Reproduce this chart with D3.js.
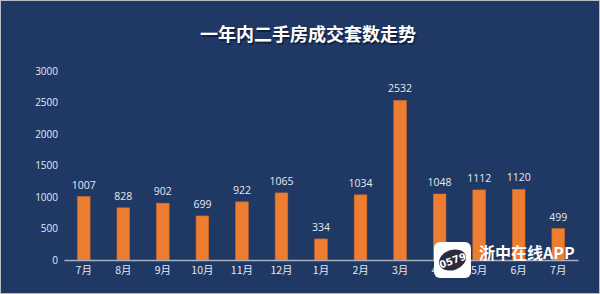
<!DOCTYPE html>
<html>
<head>
<meta charset="utf-8">
<script src="https://cdn.jsdelivr.net/npm/d3@7"></script>
<style>
  html, body { margin: 0; padding: 0; background: #1f3864; }
  svg { display: block; }
</style>
</head>
<body>
<div id="chart"></div>
<script>
var months = ["7月", "8月", "9月", "10月", "11月", "12月", "1月", "2月", "3月", "4月", "5月", "6月", "7月"];
var deals = [1007, 828, 902, 699, 922, 1065, 334, 1034, 2532, 1048, 1112, 1120, 499];
var yTicks = [0, 500, 1000, 1500, 2000, 2500, 3000];
var titleText = "一年内二手房成交套数走势";

var width = 600, height = 294;
var svg = d3.select("#chart").append("svg")
    .attr("width", width).attr("height", height);

svg.append("rect").attr("x", 0.5).attr("y", 0.5)
    .attr("width", width - 1).attr("height", height - 1)
    .attr("fill", "#1f3864").attr("stroke", "#b8bcc4");

// title with a soft shadow
svg.append("text").attr("x", 308).attr("y", 41).attr("text-anchor", "middle")
    .attr("font-family", "'Noto Sans CJK SC', sans-serif").attr("font-weight", "bold")
    .attr("font-size", 18).attr("fill", "#0e1a33").attr("opacity", 0.7)
    .attr("transform", "translate(1.5,1.5)").text(titleText);
svg.append("text").attr("x", 308).attr("y", 41).attr("text-anchor", "middle")
    .attr("font-family", "'Noto Sans CJK SC', sans-serif").attr("font-weight", "bold")
    .attr("font-size", 18).attr("fill", "#ffffff").text(titleText);

var x = d3.scaleBand().domain(d3.range(months.length))
    .range([64, 578]).paddingInner(0.68).paddingOuter(0.34);
var y = d3.scaleLinear().domain([0, 3000]).range([260, 71]);

// y axis labels only
var yAxis = svg.append("g").attr("transform", "translate(58,0)")
    .call(d3.axisLeft(y).tickValues(yTicks).tickFormat(d3.format("d")).tickSize(0).tickPadding(0));
yAxis.select(".domain").remove();
yAxis.selectAll("text").attr("fill", "#e6e9ef").attr("font-size", 10)
    .attr("font-family", "'Open Sans', 'Noto Sans', sans-serif");

// bars
svg.selectAll("rect.bar").data(deals).enter().append("rect")
    .attr("class", "bar")
    .attr("x", function(d, i) { return x(i); })
    .attr("y", function(d) { return y(d); })
    .attr("width", x.bandwidth())
    .attr("height", function(d) { return y(0) - y(d); })
    .attr("fill", "#ed7d31").attr("stroke", "#d46a22").attr("stroke-width", 0.6);

// value labels
svg.selectAll("text.val").data(deals).enter().append("text")
    .attr("class", "val")
    .attr("x", function(d, i) { return x(i) + x.bandwidth() / 2; })
    .attr("y", function(d) { return y(d) - 8; })
    .attr("text-anchor", "middle").attr("font-size", 10.5)
    .attr("font-family", "'Open Sans', 'Noto Sans', sans-serif")
    .attr("fill", "#e6e9ef").text(function(d) { return d; });

// x axis
var xAxis = svg.append("g").attr("transform", "translate(0,260)")
    .call(d3.axisBottom(x).tickFormat(function(i) { return months[i]; }).tickSize(0).tickPadding(7));
xAxis.select(".domain").attr("stroke", "#a9b1c0").attr("stroke-width", 1.5);
xAxis.selectAll("text").attr("fill", "#e6e9ef").attr("font-size", 10.5)
    .attr("font-family", "'Noto Sans CJK SC', sans-serif");

// watermark
var wm = svg.append("g");
wm.append("rect").attr("x", 434).attr("y", 242).attr("width", 37).attr("height", 36)
    .attr("rx", 6).attr("fill", "#ffffff");
wm.append("ellipse").attr("cx", 452.5).attr("cy", 260).attr("rx", 14).attr("ry", 10)
    .attr("fill", "#2b2b3a").attr("transform", "rotate(-20,452.5,260)");
wm.append("text").attr("x", 452.5).attr("y", 264).attr("text-anchor", "middle")
    .attr("font-size", 10).attr("font-weight", "bold").attr("fill", "#ffffff")
    .attr("font-family", "'DejaVu Sans', sans-serif").attr("transform", "rotate(-20,452.5,260)")
    .text("0579");
wm.append("text").attr("x", 479).attr("y", 259).attr("font-size", 16)
    .attr("font-weight", "bold")
    .attr("font-family", "'Noto Sans CJK SC', sans-serif").attr("fill", "#ffffff")
    .text("浙中在线APP");
</script>
</body>
</html>
